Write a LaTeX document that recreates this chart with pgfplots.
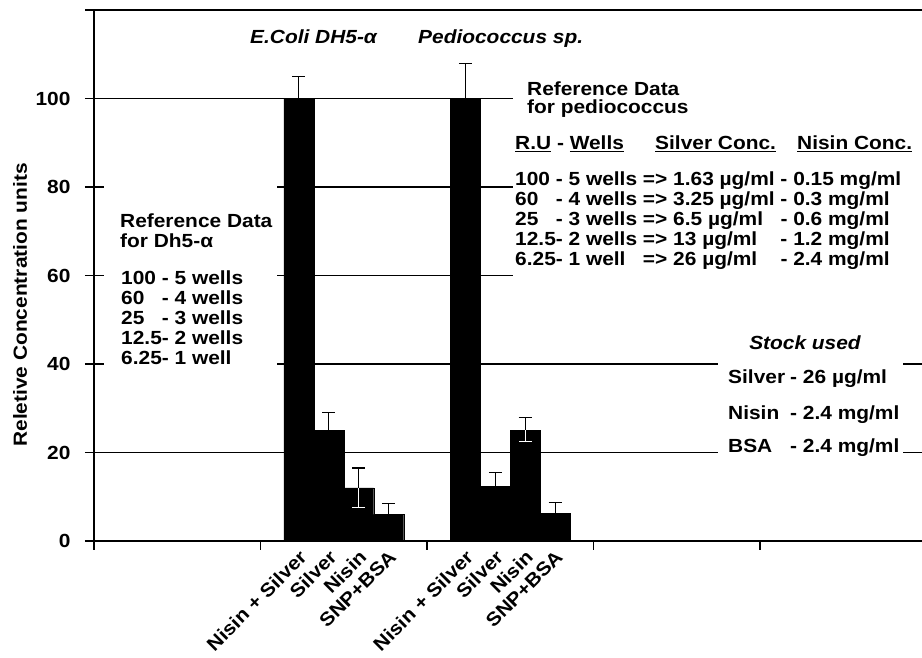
\documentclass[border=0pt]{standalone}
\usepackage{fontspec}
\setmainfont{Liberation Sans}[FakeStretch=1.1]
\usepackage{pgfplots}
\pgfplotsset{compat=1.18}
\newcommand\tf{\fontsize{19}{20}\selectfont\bfseries}
\begin{document}
\begin{tikzpicture}
\useasboundingbox (0,0) rectangle (922pt,658pt);
\begin{axis}[
  at={(94pt,117pt)}, anchor=south west,
  scale only axis, width=828pt, height=531pt,
  xmin=0, xmax=4.973, ymin=0, ymax=120,
  axis x line=bottom, axis y line=left,
  axis line style={-, line width=1.3pt},
  xtick={0,1,2,3,4,5}, xticklabels={},
  ytick={0,20,40,60,80,100},
  tick align=outside, major tick length=9pt,
  tick style={line width=1.2pt, black},
  ymajorgrids, grid style={black, line width=1.2pt},
  /pgf/number format/assume math mode=true,
  tick label style={font=\tf},
  yticklabel style={xshift=-11pt},
  extra x ticks={1.23,1.41,1.59,1.77,2.23,2.41,2.59,2.77},
  extra x tick labels={Nisin + Silver,Silver,Nisin,SNP+BSA,Nisin + Silver,Silver,Nisin,SNP+BSA},
  extra x tick style={major tick length=0pt, grid=none,
     tick label style={rotate=45, anchor=north east, font=\tf, inner sep=1pt, xshift=-5pt, yshift=-4pt}},
  clip=false,
]
\addplot[ybar, bar width=30pt, bar shift=0pt, fill=black, draw=black,
  error bars/.cd, y dir=both, y explicit,
  error bar style={line width=1.1pt, black},
  error mark options={rotate=90, mark size=6.5pt, line width=1.1pt, black}]
  coordinates {
  (1.23,100) +- (0,5)
  (1.41,25) +- (0,4)
  (1.59,12) +- (0,4.5)
  (1.77,6) +- (0,2.5)
  (2.23,100) +- (0,8)
  (2.41,12.4) +- (0,3)
  (2.59,25) +- (0,3)
  (2.77,6.3) +- (0,2.3)
  };
\addplot[draw=none, mark=none, forget plot,
  error bars/.cd, y dir=minus, y explicit,
  error bar style={line width=1pt, draw=white},
  error mark options={rotate=90, mark size=6.5pt, line width=1pt, draw=white}]
  coordinates {
  (1.59,12) +- (0,4.5)
  (2.59,25) +- (0,2.6)
  };
\end{axis}
\begin{scope}[x=1pt, y=-1pt, shift={(0pt,658pt)}]
  \draw[line width=1.2pt] (85,10) -- (922,10);
  % white boxes hiding grid
  \fill[white] (104,178) rectangle (277,372);
  \fill[white] (513,84) rectangle (922,292);
  \fill[white] (718,333) rectangle (903,457);
  % titles
  \node[anchor=base west, inner sep=0pt, font=\tf\itshape] at (250,44) {E.Coli DH5-α};
  \node[anchor=base west, inner sep=0pt, font=\tf\itshape] at (418,44) {Pediococcus sp.};
  % y label
  \node[rotate=90, font=\fontsize{19}{22}\selectfont\bfseries] at (20,305) {Reletive Concentration units};
  % left box
  \node[anchor=base west, inner sep=0pt, font=\tf, align=left] at (120,228) {Reference Data};
  \node[anchor=base west, inner sep=0pt, font=\tf, align=left] at (120,248) {for Dh5-α};
  \node[anchor=base west, inner sep=0pt, font=\tf] at (121,285) {%
    \begin{tabular}[t]{@{}l@{}l@{}}
    100\ & - 5 wells\\
    60 & - 4 wells\\
    25 & - 3 wells\\
    12.5 & - 2 wells\\
    6.25 & - 1 well
    \end{tabular}};
  % right box
  \node[anchor=base west, inner sep=0pt, font=\tf] at (527,96) {Reference Data};
  \node[anchor=base west, inner sep=0pt, font=\tf] at (527,114) {for pediococcus};
  \node[anchor=base west, inner sep=0pt, font=\tf] at (515,150) {\underline{R.U} - \underline{Wells}};
  \node[anchor=base west, inner sep=0pt, font=\tf] at (655,150) {\underline{Silver Conc.}};
  \node[anchor=base west, inner sep=0pt, font=\tf] at (797,150) {\underline{Nisin Conc.}};
  \node[anchor=base west, inner sep=0pt, font=\tf] at (515,186) {%
    \begin{tabular}[t]{@{}l@{}l@{\ }l@{\ }l@{\ }l@{}}
    100\ & - 5 wells & => & 1.63 µg/ml & - 0.15 mg/ml\\
    60 & - 4 wells & => & 3.25 µg/ml & - 0.3 mg/ml\\
    25 & - 3 wells & => & 6.5 µg/ml & - 0.6 mg/ml\\
    12.5 & - 2 wells & => & 13 µg/ml & - 1.2 mg/ml\\
    6.25 & - 1 well & => & 26 µg/ml & - 2.4 mg/ml
    \end{tabular}};
  % stock used
  \node[anchor=base, inner sep=0pt, font=\tf\itshape] at (805,350) {Stock used};
  \node[anchor=base west, inner sep=0pt, font=\tf] at (728,384) {\makebox[62pt][l]{Silver}- 26 µg/ml};
  \node[anchor=base west, inner sep=0pt, font=\tf] at (728,420) {\makebox[62pt][l]{Nisin}- 2.4 mg/ml};
  \node[anchor=base west, inner sep=0pt, font=\tf] at (728,453) {\makebox[62pt][l]{BSA}- 2.4 mg/ml};
\end{scope}
\end{tikzpicture}
\end{document}
